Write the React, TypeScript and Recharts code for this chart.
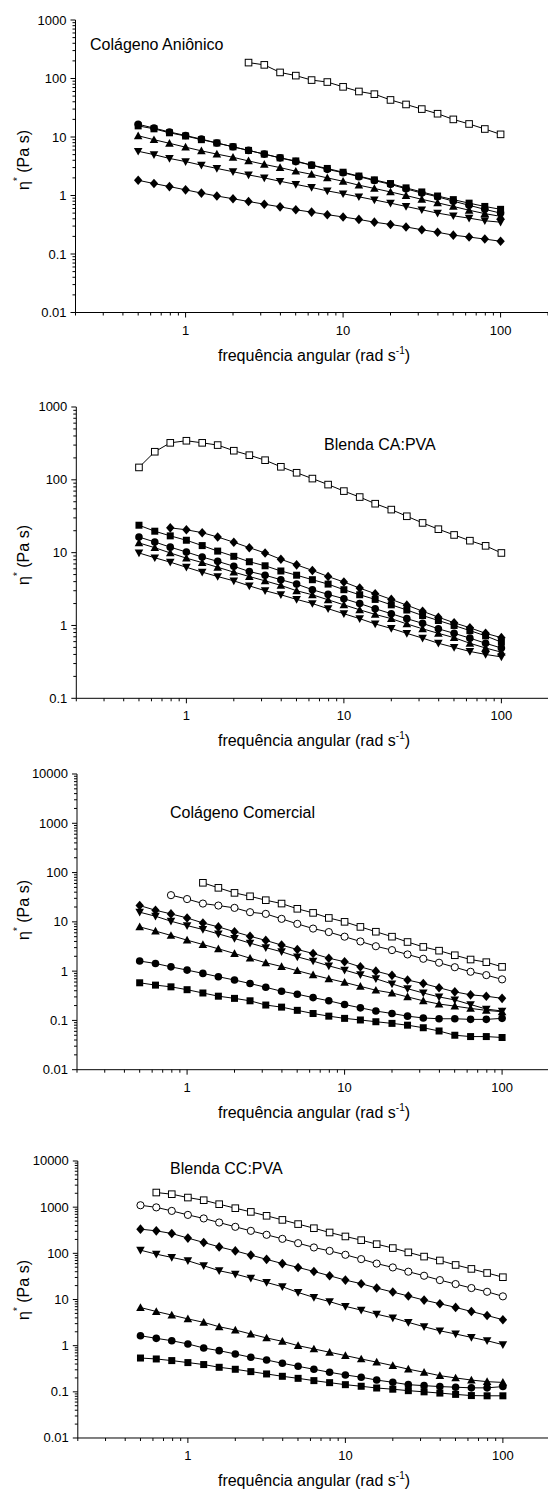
import React from 'react';
import { ScatterChart, Scatter, XAxis, YAxis } from 'recharts';

// angular frequency (rad/s), 10 points per decade
const FREQ = [0.5, 0.63, 0.79, 1, 1.26, 1.58, 2, 2.51, 3.16, 3.98, 5.01, 6.31, 7.94, 10, 12.6, 15.8, 20, 25.1, 31.6, 39.8, 50.1, 63.1, 79.4, 100];

const X_MAJOR = [1, 10, 100];
const X_MINOR_BASE = [0.1, 1, 10, 100];
const MINOR_MULT = [2, 3, 4, 5, 6, 7, 8, 9];

const Y_MAJOR_1 = [0.01, 0.1, 1, 10, 100, 1000];
const Y_MAJOR_2 = [0.1, 1, 10, 100, 1000];
const Y_MAJOR_3 = [0.01, 0.1, 1, 10, 100, 1000, 10000];
const Y_MAJOR_4 = [0.01, 0.1, 1, 10, 100, 1000, 10000];

// Panel 1 - Colágeno Aniônico
const CA_OPEN_SQ = [187, 171, 127, 112, 94, 87, 72, 60, 54, 43, 36, 30, 25, 20, 16.7, 13.7, 11.1];
const CA_SQ = [15.5, 13.8, 11.8, 10.4, 9.0, 7.9, 6.8, 5.9, 5.1, 4.4, 3.9, 3.3, 2.9, 2.5, 2.15, 1.85, 1.6, 1.35, 1.15, 0.98, 0.85, 0.74, 0.65, 0.58];
const CA_CIRC = [16.5, 14.2, 12.2, 10.6, 9.2, 7.9, 6.8, 5.9, 5.1, 4.4, 3.8, 3.3, 2.8, 2.45, 2.1, 1.8, 1.55, 1.3, 1.1, 0.95, 0.8, 0.68, 0.58, 0.5];
const CA_UP = [10.5, 9.0, 7.8, 6.7, 5.8, 5.1, 4.5, 3.9, 3.4, 3.0, 2.6, 2.3, 2.0, 1.75, 1.5, 1.32, 1.15, 1.0, 0.86, 0.75, 0.65, 0.56, 0.49, 0.44];
const CA_DOWN = [5.7, 5.0, 4.3, 3.8, 3.3, 2.9, 2.55, 2.25, 2.0, 1.75, 1.55, 1.37, 1.2, 1.07, 0.95, 0.84, 0.74, 0.65, 0.57, 0.5, 0.45, 0.41, 0.37, 0.35];
const CA_DIA = [1.82, 1.6, 1.42, 1.25, 1.1, 0.98, 0.88, 0.79, 0.71, 0.64, 0.57, 0.52, 0.47, 0.43, 0.39, 0.35, 0.32, 0.29, 0.26, 0.235, 0.21, 0.195, 0.18, 0.165];

// Panel 2 - Blenda CA:PVA
const CAP_OPEN_SQ = [148, 243, 322, 344, 322, 300, 251, 218, 186, 151, 125, 104, 86, 70, 58, 47, 39, 31.6, 25.6, 21, 17.5, 14.6, 12.4, 9.9];
const CAP_SQ = [23.8, 19.7, 17, 14.8, 12.5, 10.5, 8.9, 7.5, 6.6, 5.6, 4.9, 4.25, 3.7, 3.1, 2.64, 2.28, 1.92, 1.63, 1.37, 1.17, 1.0, 0.85, 0.72, 0.59];
const CAP_DIA = [21.9, 20.6, 18.8, 16.4, 13.9, 11.7, 9.9, 8.1, 6.8, 5.7, 4.7, 3.95, 3.26, 2.73, 2.28, 1.9, 1.57, 1.3, 1.09, 0.93, 0.78, 0.68];
const CAP_CIRC = [16.4, 14, 11.9, 10.2, 8.7, 7.6, 6.5, 5.5, 4.9, 4.25, 3.7, 3.1, 2.67, 2.33, 2.0, 1.7, 1.45, 1.24, 1.07, 0.9, 0.78, 0.67, 0.57, 0.49];
const CAP_UP = [13.6, 11.7, 9.9, 8.4, 7.3, 6.3, 5.4, 4.7, 4.1, 3.55, 3.0, 2.64, 2.25, 1.92, 1.64, 1.42, 1.24, 1.05, 0.9, 0.78, 0.68, 0.57, 0.49, 0.43];
const CAP_DOWN = [9.9, 8.5, 7.4, 6.3, 5.4, 4.7, 4.1, 3.5, 3.0, 2.64, 2.28, 2.0, 1.7, 1.45, 1.24, 1.05, 0.91, 0.78, 0.67, 0.57, 0.5, 0.44, 0.4, 0.37];

// Panel 3 - Colágeno Comercial
const CC_OPEN_SQ = [62, 49, 38.7, 33, 27.5, 23.5, 18.4, 15.2, 12, 10, 7.9, 6.3, 5.0, 3.9, 3.1, 2.6, 2.1, 1.72, 1.52, 1.22];
const CC_OPEN_CIRC = [34.8, 29, 23.5, 21.4, 19.2, 15.7, 14.5, 11.5, 9.1, 7.3, 6.2, 5.0, 4.0, 3.2, 2.67, 2.18, 1.78, 1.48, 1.2, 0.97, 0.83, 0.68];
const CC_DIA = [21.4, 17.2, 14.5, 12, 9.5, 7.9, 6.3, 5.1, 4.2, 3.37, 2.75, 2.28, 1.83, 1.55, 1.22, 1.0, 0.82, 0.66, 0.56, 0.46, 0.38, 0.33, 0.31, 0.28];
const CC_DOWN = [15.7, 13, 10.3, 8.4, 7, 5.7, 4.6, 3.7, 3.0, 2.47, 1.95, 1.6, 1.28, 1.05, 0.85, 0.7, 0.55, 0.44, 0.36, 0.3, 0.26, 0.21, 0.17, 0.155];
const CC_UP = [7.9, 6.5, 5.3, 4.25, 3.47, 2.84, 2.28, 1.83, 1.48, 1.24, 1.02, 0.84, 0.7, 0.59, 0.49, 0.41, 0.36, 0.3, 0.25, 0.215, 0.195, 0.175, 0.16, 0.15];
const CC_CIRC = [1.6, 1.43, 1.22, 1.05, 0.9, 0.77, 0.66, 0.56, 0.47, 0.39, 0.34, 0.29, 0.25, 0.21, 0.18, 0.155, 0.138, 0.122, 0.112, 0.108, 0.108, 0.105, 0.105, 0.11];
const CC_SQ = [0.58, 0.52, 0.48, 0.42, 0.36, 0.31, 0.28, 0.25, 0.205, 0.186, 0.16, 0.138, 0.122, 0.11, 0.102, 0.094, 0.087, 0.08, 0.071, 0.061, 0.05, 0.047, 0.047, 0.045];

// Panel 4 - Blenda CC:PVA
const CCP_OPEN_SQ = [2075, 1910, 1615, 1415, 1160, 950, 790, 650, 530, 430, 350, 283, 232, 193, 158, 130, 105, 85, 70, 56, 46, 37.5, 30.4];
const CCP_OPEN_CIRC = [1100, 990, 830, 680, 570, 465, 375, 307, 252, 206, 166, 134, 113, 93, 75, 60, 49.5, 40, 32.7, 26.3, 21.6, 17.7, 14.7, 11.7];
const CCP_DIA = [334, 307, 269, 214, 172, 138, 113, 91.5, 74, 60, 49.5, 40.5, 32.7, 26.3, 22, 17.7, 14.5, 11.9, 9.7, 8.1, 6.75, 5.5, 4.5, 3.65];
const CCP_DOWN = [117, 96, 81.5, 69, 54, 42, 35.5, 29, 23.4, 18.9, 14.2, 11.1, 9.0, 7.1, 5.9, 4.8, 4.0, 3.2, 2.57, 2.1, 1.79, 1.51, 1.28, 1.05];
const CCP_UP = [6.7, 5.5, 4.6, 3.8, 3.2, 2.57, 2.18, 1.79, 1.47, 1.24, 1.0, 0.85, 0.72, 0.61, 0.515, 0.44, 0.37, 0.31, 0.265, 0.224, 0.2, 0.18, 0.166, 0.16];
const CCP_CIRC = [1.64, 1.44, 1.28, 1.09, 0.89, 0.78, 0.66, 0.56, 0.49, 0.415, 0.357, 0.308, 0.265, 0.232, 0.207, 0.18, 0.161, 0.143, 0.136, 0.13, 0.126, 0.122, 0.122, 0.13];
const CCP_SQ = [0.54, 0.515, 0.475, 0.43, 0.39, 0.34, 0.308, 0.274, 0.244, 0.217, 0.196, 0.175, 0.158, 0.143, 0.132, 0.121, 0.114, 0.106, 0.1, 0.094, 0.088, 0.083, 0.082, 0.082];

const TITLES = ['Colágeno Aniônico', 'Blenda CA:PVA', 'Colágeno Comercial', 'Blenda CC:PVA'];
const FONT = '"Liberation Sans", Arial, Helvetica, sans-serif';

type Kind = 'osq' | 'ocirc' | 'sq' | 'circ' | 'up' | 'down' | 'dia';

const toPoints = (vals: number[]) => {
  const start = FREQ.length - vals.length;
  return vals.map((v, i) => ({ x: FREQ[start + i], y: v }));
};

const renderMarker = (kind: Kind) => (p: any) => {
  const { cx, cy } = p;
  if (cx == null || cy == null) return <g />;
  switch (kind) {
    case 'osq':
      return <rect x={cx - 3.3} y={cy - 3.3} width={6.6} height={6.6} fill="#fff" stroke="#000" strokeWidth={1} />;
    case 'ocirc':
      return <circle cx={cx} cy={cy} r={3.6} fill="#fff" stroke="#000" strokeWidth={1} />;
    case 'sq':
      return <rect x={cx - 3.5} y={cy - 3.5} width={7} height={7} fill="#000" />;
    case 'circ':
      return <circle cx={cx} cy={cy} r={3.8} fill="#000" />;
    case 'up':
      return <polygon points={`${cx},${cy - 4.3} ${cx - 4.3},${cy + 3.4} ${cx + 4.3},${cy + 3.4}`} fill="#000" />;
    case 'down':
      return <polygon points={`${cx},${cy + 4.3} ${cx - 4.3},${cy - 3.4} ${cx + 4.3},${cy - 3.4}`} fill="#000" />;
    case 'dia':
    default:
      return <polygon points={`${cx},${cy - 4.8} ${cx + 4.2},${cy} ${cx},${cy + 4.8} ${cx - 4.2},${cy}`} fill="#000" />;
  }
};

const isMajor = (v: number) => {
  const l = Math.log10(v);
  return Math.abs(l - Math.round(l)) < 1e-6;
};

const withMinor = (majors: number[]) => {
  const out: number[] = [];
  majors.forEach((m, i) => {
    out.push(m);
    if (i < majors.length - 1) MINOR_MULT.forEach((k) => out.push(+(m * k).toPrecision(6)));
  });
  return out;
};

const X_TICKS = (() => {
  const out: number[] = [];
  X_MINOR_BASE.forEach((b) => {
    if (b >= 1) out.push(b);
    MINOR_MULT.forEach((k) => {
      const v = +(b * k).toPrecision(6);
      if (v >= 0.2 && v <= 200) out.push(v);
    });
  });
  return out.filter((v) => v >= 0.2 && v <= 200).sort((a, b) => a - b);
})();

const fmt = (v: number) => String(+v.toPrecision(6));

const XTick = (props: any) => {
  const { x, y, payload } = props;
  const v = payload.value;
  const major = X_MAJOR.includes(v);
  return (
    <g>
      <line x1={x} x2={x} y1={y} y2={y + (major ? 5 : 3)} stroke="#000" strokeWidth={1} />
      {major && (
        <text x={x} y={y + 22} textAnchor="middle" fontSize={13} fontFamily={FONT} fill="#000">
          {fmt(v)}
        </text>
      )}
    </g>
  );
};

const YTick = (props: any) => {
  const { x, y, payload } = props;
  const v = payload.value;
  const major = isMajor(v);
  return (
    <g>
      <line x1={x} x2={x - (major ? 5 : 3)} y1={y} y2={y} stroke="#000" strokeWidth={1} />
      {major && (
        <text x={x - 9} y={y + 4.5} textAnchor="end" fontSize={13} fontFamily={FONT} fill="#000">
          {fmt(v)}
        </text>
      )}
    </g>
  );
};

type SeriesDef = { vals: number[]; kind: Kind };

type PanelDef = {
  plotLeft: number;
  plotTop: number;
  plotBottom: number;
  yMajor: number[];
  series: SeriesDef[];
};

const PANELS: PanelDef[] = [
  {
    plotLeft: 75.5, plotTop: 20, plotBottom: 312.5, yMajor: Y_MAJOR_1,
    series: [
      { vals: CA_OPEN_SQ, kind: 'osq' },
      { vals: CA_DIA, kind: 'dia' },
      { vals: CA_DOWN, kind: 'down' },
      { vals: CA_UP, kind: 'up' },
      { vals: CA_CIRC, kind: 'circ' },
      { vals: CA_SQ, kind: 'sq' },
    ],
  },
  {
    plotLeft: 76.3, plotTop: 406.7, plotBottom: 698, yMajor: Y_MAJOR_2,
    series: [
      { vals: CAP_OPEN_SQ, kind: 'osq' },
      { vals: CAP_DOWN, kind: 'down' },
      { vals: CAP_UP, kind: 'up' },
      { vals: CAP_CIRC, kind: 'circ' },
      { vals: CAP_SQ, kind: 'sq' },
      { vals: CAP_DIA, kind: 'dia' },
    ],
  },
  {
    plotLeft: 77, plotTop: 774.3, plotBottom: 1070, yMajor: Y_MAJOR_3,
    series: [
      { vals: CC_OPEN_SQ, kind: 'osq' },
      { vals: CC_OPEN_CIRC, kind: 'ocirc' },
      { vals: CC_SQ, kind: 'sq' },
      { vals: CC_CIRC, kind: 'circ' },
      { vals: CC_UP, kind: 'up' },
      { vals: CC_DOWN, kind: 'down' },
      { vals: CC_DIA, kind: 'dia' },
    ],
  },
  {
    plotLeft: 77.8, plotTop: 1161, plotBottom: 1438, yMajor: Y_MAJOR_4,
    series: [
      { vals: CCP_OPEN_SQ, kind: 'osq' },
      { vals: CCP_OPEN_CIRC, kind: 'ocirc' },
      { vals: CCP_DIA, kind: 'dia' },
      { vals: CCP_DOWN, kind: 'down' },
      { vals: CCP_UP, kind: 'up' },
      { vals: CCP_CIRC, kind: 'circ' },
      { vals: CCP_SQ, kind: 'sq' },
    ],
  },
];

const PLOT_W = 472.5;
const TOP_PAD = 10;
const X_AXIS_H = 60;

const Panel = ({ def }: { def: PanelDef }) => {
  const plotH = def.plotBottom - def.plotTop;
  const width = def.plotLeft + PLOT_W;
  const height = plotH + TOP_PAD + X_AXIS_H;
  const yDomain = [def.yMajor[0], def.yMajor[def.yMajor.length - 1]];
  return (
    <div style={{ position: 'absolute', left: 0, top: def.plotTop - TOP_PAD, width, height }}>
      <ScatterChart width={width} height={height} margin={{ top: TOP_PAD, right: 0, bottom: 0, left: 0 }}>
        <XAxis
          type="number"
          dataKey="x"
          scale="log"
          domain={[0.2, 200]}
          allowDataOverflow
          ticks={X_TICKS}
          interval={0}
          tickSize={0}
          tickMargin={0}
          tickLine={false}
          tick={(p: any) => <XTick {...p} />}
          axisLine={{ stroke: '#000', strokeWidth: 1 }}
          height={X_AXIS_H}
        />
        <YAxis
          type="number"
          dataKey="y"
          scale="log"
          domain={yDomain}
          allowDataOverflow
          ticks={withMinor(def.yMajor)}
          interval={0}
          tickSize={0}
          tickMargin={0}
          tickLine={false}
          tick={(p: any) => <YTick {...p} />}
          axisLine={{ stroke: '#000', strokeWidth: 1 }}
          width={def.plotLeft}
        />
        {def.series.map((s, i) => (
          <Scatter
            key={i}
            data={toPoints(s.vals)}
            line={{ stroke: '#000', strokeWidth: 1 }}
            lineType="joint"
            shape={renderMarker(s.kind)}
            isAnimationActive={false}
          />
        ))}
      </ScatterChart>
    </div>
  );
};

const ANNOT = [
  { x: 90, y: 50 },
  { x: 324, y: 450 },
  { x: 170, y: 818 },
  { x: 170, y: 1174 },
];
const Y_TITLE_CY = [160, 555, 910, 1290];

export default function App() {
  return (
    <div style={{ position: 'absolute', left: 0, top: 0, width: 548, height: 1490, background: '#fff', overflow: 'hidden' }}>
      {PANELS.map((p, i) => (
        <Panel key={i} def={p} />
      ))}
      <svg width={548} height={1490} style={{ position: 'absolute', left: 0, top: 0, pointerEvents: 'none' }}>
        {PANELS.map((p, i) => (
          <g key={i} fontFamily={FONT} fill="#000">
            <text x={ANNOT[i].x} y={ANNOT[i].y} fontSize={16}>
              {TITLES[i]}
            </text>
            <text x={314} y={p.plotBottom + 48} fontSize={16} textAnchor="middle">
              frequência angular (rad s
              <tspan fontSize={10} dy={-7}>-1</tspan>
              <tspan dy={7}>)</tspan>
            </text>
            <text transform={`translate(29, ${Y_TITLE_CY[i]}) rotate(-90)`} fontSize={16} textAnchor="middle">
              η
              <tspan fontSize={10} dy={-8}>*</tspan>
              <tspan dy={8}> (Pa s)</tspan>
            </text>
          </g>
        ))}
      </svg>
    </div>
  );
}
